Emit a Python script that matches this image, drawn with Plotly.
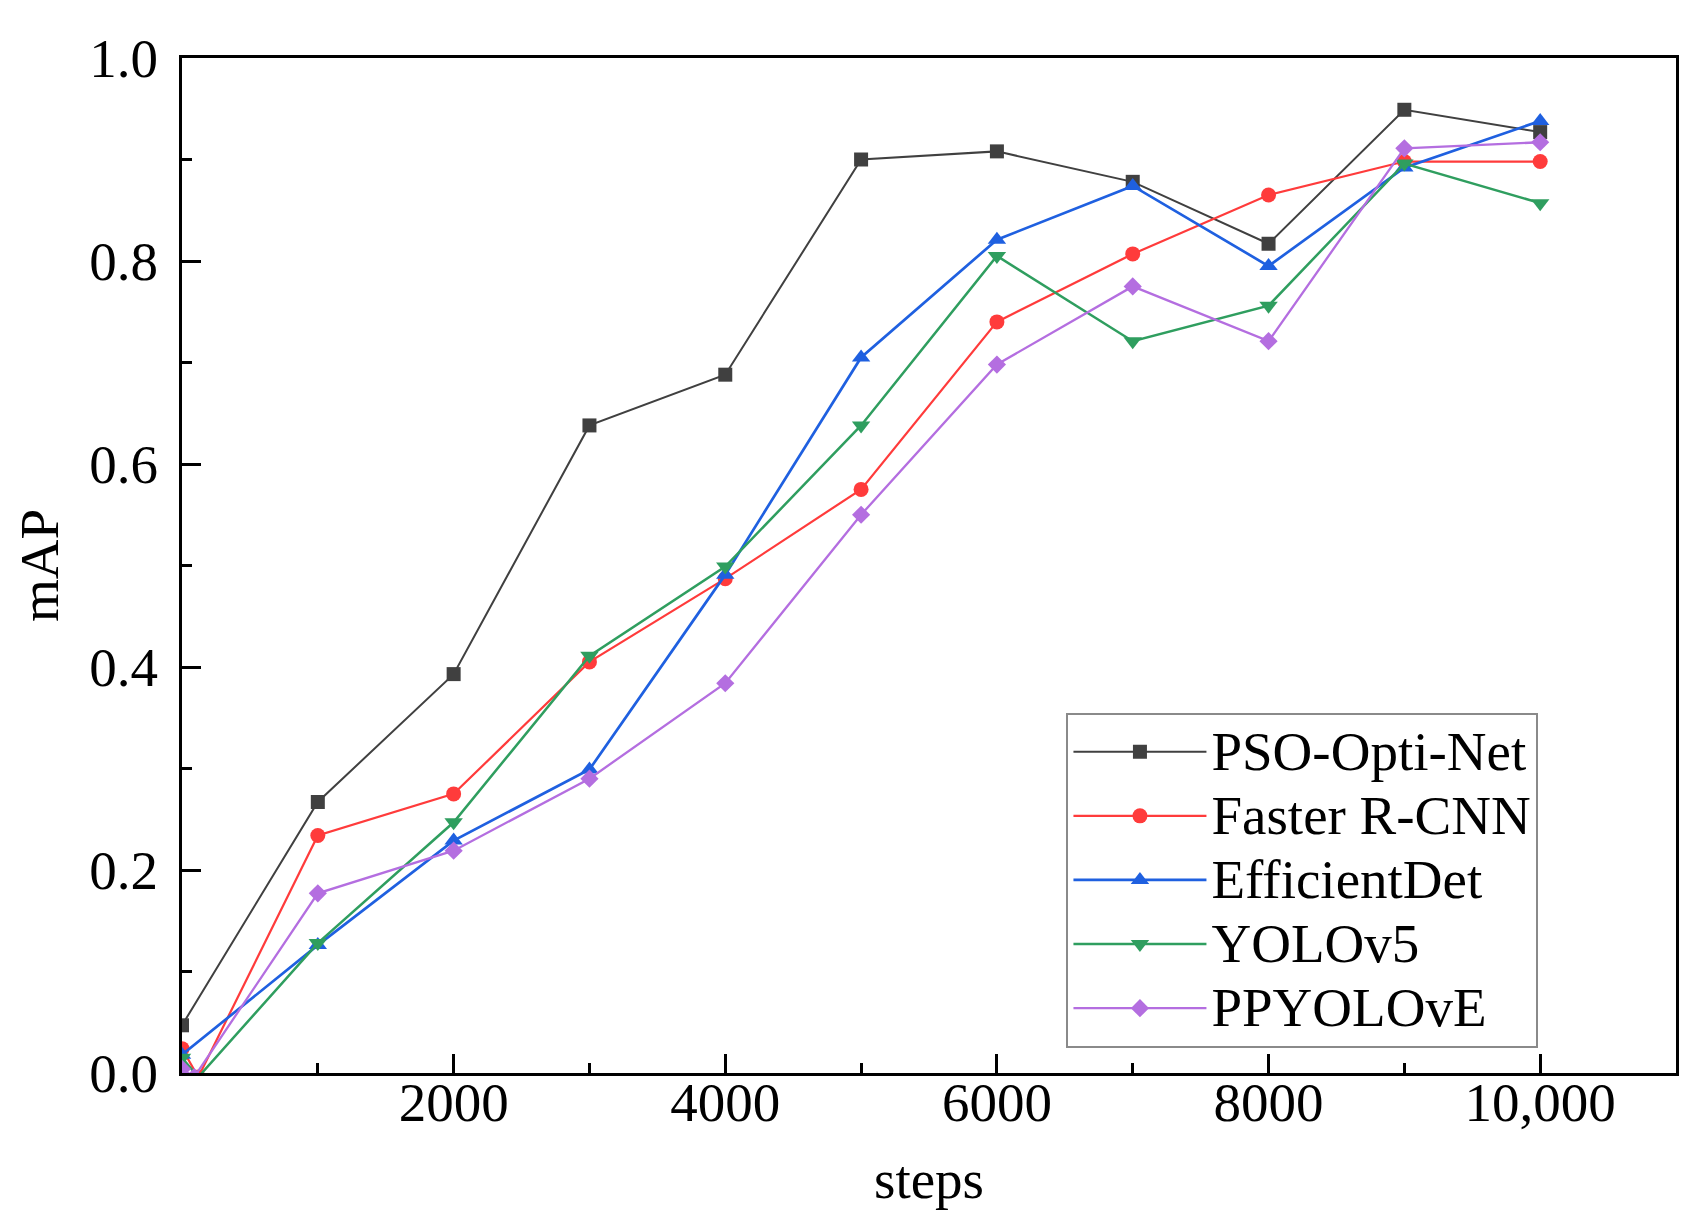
import plotly.graph_objects as go

# ---- data ----
steps_pso = [0, 1000, 2000, 3000, 4000, 5000, 6000, 7000, 8000, 9000, 10000]
map_pso = [0.047, 0.267, 0.393, 0.638, 0.688, 0.900, 0.908, 0.878, 0.817, 0.949, 0.927]

steps_frcnn = [0, 120, 1000, 2000, 3000, 4000, 5000, 6000, 7000, 8000, 9000, 10000]
map_frcnn = [0.024, -0.004, 0.234, 0.275, 0.405, 0.487, 0.575, 0.740, 0.807, 0.865, 0.898, 0.898]

steps_eff = [0, 1000, 2000, 3000, 4000, 5000, 6000, 7000, 8000, 9000, 10000]
map_eff = [0.018, 0.126, 0.229, 0.299, 0.491, 0.705, 0.821, 0.874, 0.795, 0.892, 0.938]

steps_yolo = [0, 120, 1000, 2000, 3000, 4000, 5000, 6000, 7000, 8000, 9000, 10000]
map_yolo = [0.015, -0.004, 0.128, 0.247, 0.411, 0.499, 0.638, 0.805, 0.721, 0.756, 0.896, 0.857]

steps_ppy = [0, 90, 1000, 2000, 3000, 4000, 5000, 6000, 7000, 8000, 9000, 10000]
map_ppy = [0.004, -0.004, 0.177, 0.219, 0.290, 0.384, 0.550, 0.698, 0.775, 0.721, 0.911, 0.917]

names = ["PSO-Opti-Net", "Faster R-CNN", "EfficientDet", "YOLOv5", "PPYOLOvE"]

x_tickvals = [2000, 4000, 6000, 8000, 10000]
x_ticktext = ["2000", "4000", "6000", "8000", "10,000"]
y_tickvals = [0.0, 0.2, 0.4, 0.6, 0.8, 1.0]
y_ticktext = ["0.0", "0.2", "0.4", "0.6", "0.8", "1.0"]

FONT = "Liberation Serif"
TICK_SIZE = 55
LEGEND_TEXT_PX = 55

series = [
    (steps_pso, map_pso, names[0], "#404040", "square", 2.0, 14),
    (steps_frcnn, map_frcnn, names[1], "#ff3b3b", "circle", 2.2, 15),
    (steps_eff, map_eff, names[2], "#1f60e0", "triangle-up", 2.7, 16),
    (steps_yolo, map_yolo, names[3], "#2f9e5f", "triangle-down", 2.5, 16),
    (steps_ppy, map_ppy, names[4], "#b46ee0", "diamond", 2.3, 14),
]

fig = go.Figure()
for i, (xs, ys, nm, col, sym, lw, ms) in enumerate(series):
    fig.add_trace(go.Scatter(
        x=xs, y=ys,
        name=f"<span style='font-size:{LEGEND_TEXT_PX}px'>{nm}</span>",
        mode="lines+markers",
        line=dict(color=col, width=lw),
        marker=dict(symbol=sym, size=ms, color=col, line=dict(width=0)),
        legendgroup=str(i),
    ))

axis_common = dict(
    showline=True, linecolor="black", linewidth=3, mirror=True,
    showgrid=False, zeroline=False,
    ticks="inside", tickwidth=3, tickcolor="black", ticklen=19,
    tickfont=dict(family=FONT, size=TICK_SIZE, color="black"),
)

fig.update_xaxes(
    range=[0, 11000], tickmode="array", tickvals=x_tickvals, ticktext=x_ticktext,
    minor=dict(ticks="inside", ticklen=10, tickwidth=3, tickcolor="black",
               tickmode="linear", tick0=1000, dtick=2000, showgrid=False),
    title=dict(text="steps", font=dict(family=FONT, size=TICK_SIZE, color="black"), standoff=28),
    ticklabelstandoff=-21,
    **axis_common,
)
fig.update_yaxes(
    range=[0, 1], tickmode="array", tickvals=y_tickvals, ticktext=y_ticktext,
    minor=dict(ticks="inside", ticklen=10, tickwidth=3, tickcolor="black",
               tickmode="linear", tick0=0.1, dtick=0.2, showgrid=False),
    title=dict(text="mAP", font=dict(family=FONT, size=TICK_SIZE, color="black"), standoff=14),
    ticklabelstandoff=10,
    **axis_common,
)

fig.update_layout(
    width=1704, height=1218,
    margin=dict(l=174, r=36, t=50, b=153),
    paper_bgcolor="white", plot_bgcolor="white",
    font=dict(family=FONT, color="black"),
    legend=dict(
        x=0.592, y=0.355, xanchor="left", yanchor="top",
        bgcolor="white", bordercolor="#8a8a8a", borderwidth=2,
        font=dict(family=FONT, size=47, color="black"),
        traceorder="grouped", tracegroupgap=0,
        itemwidth=133,
    ),
)

fig.write_html("out.html")
